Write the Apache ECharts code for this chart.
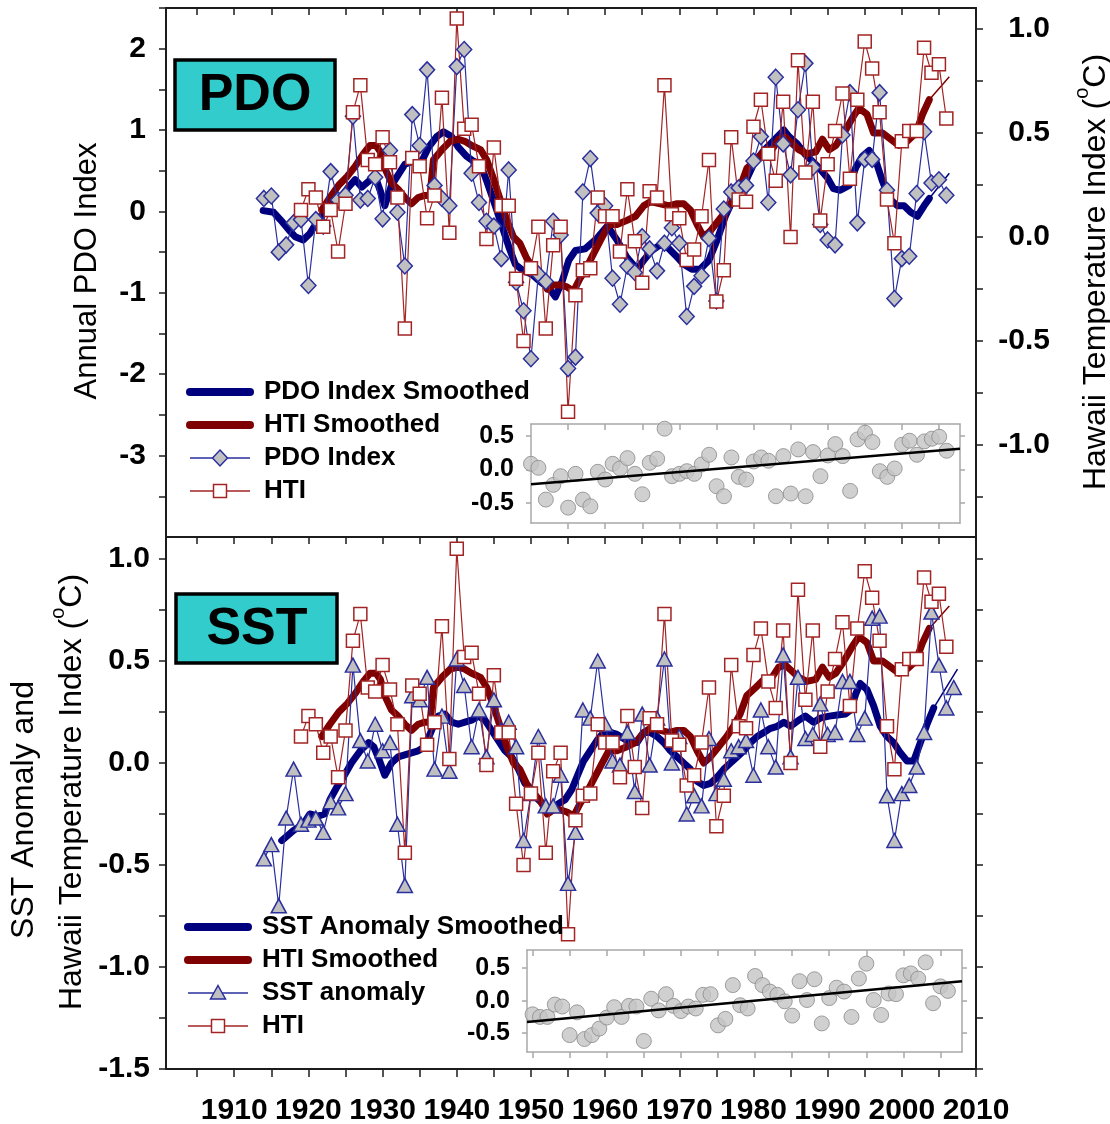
<!DOCTYPE html>
<html><head><meta charset="utf-8">
<script src="https://cdn.jsdelivr.net/npm/echarts@6/dist/echarts.min.js"></script>
<style>html,body{margin:0;padding:0;background:#fff;}#c{width:1110px;height:1124px;}</style>
</head><body><div id="c"></div>
<script>
// ---------- DATA ----------
const pdoYears = [1914,1915,1916,1917,1918,1919,1920,1921,1922,1923,1924,1925,1926,1927,1928,1929,1930,1931,1932,1933,1934,1935,1936,1937,1938,1939,1940,1941,1942,1943,1944,1945,1946,1947,1948,1949,1950,1951,1952,1953,1954,1955,1956,1957,1958,1959,1960,1961,1962,1963,1964,1965,1966,1967,1968,1969,1970,1971,1972,1973,1974,1975,1976,1977,1978,1979,1980,1981,1982,1983,1984,1985,1986,1987,1988,1989,1990,1991,1992,1993,1994,1995,1996,1997,1998,1999,2000,2001,2002,2003,2004,2005,2006];
const pdoValues = [0.16,0.19,-0.50,-0.41,-0.14,-0.10,-0.91,-0.10,-0.18,0.49,
  0.14,0.20,1.17,0.14,0.16,0.42,-0.09,0.75,-0.01,-0.67,
  1.19,0.81,1.74,0.32,0.16,0.07,1.78,1.99,0.47,0.11,
  -0.12,-0.18,-0.58,0.51,-0.87,-1.22,-1.81,-0.77,-0.86,-0.12,
  -0.29,-1.93,-1.79,0.24,0.65,-0.02,0.07,-0.82,-1.14,-0.67,
  -0.75,-0.31,-0.46,-0.73,-0.39,-0.20,-0.39,-1.29,-0.92,-0.79,
  -0.33,-1.10,0.03,0.24,0.29,0.32,0.62,0.92,0.11,1.65,
  0.83,0.45,1.25,1.82,0.54,-0.16,-0.35,-0.41,0.94,1.46,
  -0.14,0.64,0.64,1.46,0.26,-1.07,-0.58,-0.55,0.22,0.98,
  0.35,0.39,0.20];

const htiYears = [1919,1920,1921,1922,1923,1924,1925,1926,1927,1928,1929,1930,1931,1932,1933,1934,1935,1936,1937,1938,1939,1940,1941,1942,1943,1944,1945,1946,1947,1948,1949,1950,1951,1952,1953,1954,1955,1956,1957,1958,1959,1960,1961,1962,1963,1964,1965,1966,1967,1968,1969,1970,1971,1972,1973,1974,1975,1976,1977,1978,1979,1980,1981,1982,1983,1984,1985,1986,1987,1988,1989,1990,1991,1992,1993,1994,1995,1996,1997,1998,1999,2000,2001,2002,2003,2004,2005,2006];
const htiValues = [0.13,0.23,0.19,0.05,0.13,-0.07,0.16,0.60,0.73,0.37,
  0.35,0.48,0.36,0.19,-0.44,0.38,0.34,0.09,0.20,0.67,
  0.02,1.05,0.52,0.54,0.34,-0.01,0.43,0.15,0.15,-0.20,
  -0.50,-0.15,0.05,-0.44,-0.04,0.05,-0.84,-0.28,-0.16,-0.15,
  0.19,0.10,0.10,-0.07,0.23,-0.02,-0.22,0.22,0.19,0.73,
  0.11,0.09,-0.11,-0.06,0.10,0.37,-0.31,-0.16,0.48,0.18,
  0.17,0.53,0.66,0.40,0.27,0.65,0.00,0.85,0.31,0.65,
  0.08,0.35,0.51,0.69,0.28,0.66,0.94,0.81,0.60,0.18,
  -0.03,0.46,0.51,0.51,0.91,0.79,0.83,0.57];

const sstYears = [1914,1915,1916,1917,1918,1919,1920,1921,1922,1923,1924,1925,1926,1927,1928,1929,1930,1931,1932,1933,1934,1935,1936,1937,1938,1939,1940,1941,1942,1943,1944,1945,1946,1947,1948,1949,1950,1951,1952,1953,1954,1955,1956,1957,1958,1959,1960,1961,1962,1963,1964,1965,1966,1967,1968,1969,1970,1971,1972,1973,1974,1975,1976,1977,1978,1979,1980,1981,1982,1983,1984,1985,1986,1987,1988,1989,1990,1991,1992,1993,1994,1995,1996,1997,1998,1999,2000,2001,2002,2003,2004,2005,2006,2007];
const sstValues = [-0.47,-0.40,-0.70,-0.27,-0.03,-0.30,-0.28,-0.27,-0.34,-0.19,
  -0.22,-0.15,0.48,0.11,0.01,0.19,0.06,0.10,-0.30,-0.60,
  0.33,0.31,0.42,-0.03,0.23,-0.04,0.51,0.38,0.08,0.26,
  0.03,0.31,0.16,0.20,0.08,-0.38,-0.15,0.13,-0.21,-0.21,
  -0.06,-0.59,-0.34,0.26,0.22,0.50,0.19,0.01,-0.01,0.15,
  -0.14,0.24,-0.01,0.22,0.51,0.00,0.13,-0.25,-0.16,-0.21,
  0.12,-0.15,-0.08,0.06,0.08,0.11,-0.06,0.26,0.08,-0.02,
  0.53,0.03,0.42,0.12,0.14,0.29,0.14,0.15,0.40,0.40,
  0.14,0.22,0.71,0.72,-0.16,-0.38,-0.15,-0.11,-0.02,0.15,
  0.74,0.48,0.27,0.37];

// smoothed curves: [year, value]
const pdoSmoothed = [[1913.9,0.01],[1915.3,-0.01],[1916.2,-0.10],[1917.3,-0.22],[1918.2,-0.31],[1919.3,-0.35],[1920.2,-0.27],[1921.1,-0.14],[1922.0,-0.01],[1922.9,0.07],[1924.3,0.16],[1925.4,0.30],[1926.3,0.39],[1927.2,0.30],[1928.1,0.37],[1929.0,0.43],[1929.7,0.25],[1930.3,0.07],[1931.2,0.32],[1932.1,0.45],[1933.0,0.58],[1934.2,0.62],[1935.3,0.62],[1936.2,0.79],[1937.3,0.92],[1938.2,0.98],[1939.3,0.92],[1940.2,0.79],[1941.3,0.68],[1942.2,0.62],[1943.2,0.58],[1944.05,0.37],[1945.2,0.07],[1946.1,-0.18],[1947.0,-0.43],[1947.9,-0.65],[1949.0,-0.73],[1950.1,-0.77],[1951.2,-0.86],[1952.4,-0.94],[1953.3,-1.05],[1954.2,-0.86],[1955.1,-0.60],[1956.0,-0.48],[1957.3,-0.46],[1958.9,-0.33],[1960.3,-0.18],[1961.6,-0.35],[1962.9,-0.56],[1964.3,-0.71],[1965.2,-0.60],[1966.3,-0.48],[1967.4,-0.41],[1968.3,-0.43],[1969.5,-0.54],[1970.6,-0.65],[1971.7,-0.71],[1972.8,-0.71],[1974.0,-0.60],[1975.1,-0.35],[1976.2,-0.06],[1977.3,0.16],[1978.7,0.32],[1980.0,0.58],[1981.4,0.75],[1982.7,0.87],[1984.1,1.0],[1984.8,0.92],[1985.9,0.83],[1987.0,0.70],[1987.9,0.62],[1988.8,0.54],[1990.0,0.41],[1990.8,0.28],[1991.7,0.26],[1992.9,0.32],[1993.8,0.54],[1994.7,0.68],[1995.6,0.75],[1996.5,0.62],[1997.4,0.37],[1998.3,0.16],[1999.4,0.07],[2000.3,0.07],[2001.2,-0.01],[2002.1,-0.06],[2003.0,0.07],[2003.7,0.16]];
const pdoSmoothedTail = [[2003.7,0.16],[2006.4,0.47]];

const htiSmoothed = [[1921.8,0.13],[1922.9,0.19],[1924.1,0.25],[1925.2,0.29],[1926.3,0.34],[1927.4,0.40],[1928.3,0.44],[1929.1,0.44],[1929.7,0.41],[1930.3,0.33],[1931.2,0.26],[1932.1,0.23],[1933.0,0.19],[1933.9,0.16],[1934.8,0.19],[1935.7,0.20],[1936.4,0.20],[1936.85,0.37],[1938.0,0.42],[1939.1,0.46],[1940.2,0.47],[1941.1,0.46],[1942.0,0.44],[1943.2,0.42],[1944.05,0.37],[1944.95,0.28],[1945.85,0.18],[1946.75,0.08],[1947.65,0.0],[1948.5,-0.03],[1949.4,-0.10],[1950.3,-0.15],[1951.2,-0.18],[1952.2,-0.25],[1953.05,-0.23],[1953.95,-0.23],[1954.85,-0.24],[1955.75,-0.26],[1956.6,-0.20],[1957.3,-0.16],[1958.45,-0.08],[1959.6,0.0],[1960.5,0.06],[1961.6,0.06],[1962.95,0.08],[1964.1,0.10],[1965.2,0.15],[1966.1,0.17],[1967.45,0.16],[1968.6,0.15],[1969.7,0.16],[1970.6,0.16],[1971.5,0.13],[1972.4,0.06],[1973.3,0.0],[1974.2,0.03],[1975.3,0.08],[1976.4,0.13],[1977.3,0.18],[1978.2,0.24],[1979.1,0.33],[1980.3,0.37],[1981.4,0.41],[1982.5,0.42],[1983.4,0.47],[1984.3,0.48],[1985.2,0.45],[1986.1,0.42],[1987.2,0.40],[1988.4,0.41],[1989.3,0.47],[1990.2,0.42],[1991.1,0.44],[1992.2,0.50],[1993.3,0.57],[1994.2,0.62],[1995.3,0.59],[1996.2,0.50],[1997.4,0.50],[1998.5,0.47],[1999.6,0.44],[2000.7,0.46],[2001.9,0.50],[2002.8,0.59],[2003.7,0.66]];
const htiSmoothedTail = [[2003.7,0.66],[2006.4,0.77]];

const sstSmoothed = [[1916.4,-0.38],[1918.0,-0.33],[1919.3,-0.30],[1920.2,-0.25],[1921.3,-0.26],[1922.2,-0.25],[1922.9,-0.18],[1923.8,-0.12],[1924.7,-0.07],[1925.8,0.0],[1927.0,0.06],[1928.1,0.10],[1928.8,0.08],[1929.5,0.02],[1930.3,-0.06],[1931.2,0.0],[1932.1,0.03],[1933.0,0.04],[1933.9,0.05],[1934.8,0.06],[1935.7,0.08],[1936.6,0.16],[1937.5,0.23],[1938.4,0.24],[1939.3,0.20],[1940.2,0.19],[1941.1,0.20],[1942.0,0.21],[1942.9,0.23],[1943.8,0.21],[1944.7,0.16],[1945.6,0.11],[1946.5,0.06],[1947.4,0.03],[1948.3,-0.03],[1949.2,-0.10],[1950.1,-0.13],[1951.0,-0.18],[1951.9,-0.21],[1952.8,-0.23],[1953.7,-0.20],[1954.6,-0.18],[1955.5,-0.13],[1956.4,-0.05],[1957.1,0.01],[1958.0,0.06],[1958.9,0.11],[1959.8,0.15],[1960.7,0.15],[1961.6,0.14],[1962.5,0.12],[1963.4,0.10],[1964.3,0.10],[1965.2,0.15],[1966.1,0.15],[1967.0,0.13],[1967.9,0.10],[1968.8,0.06],[1969.7,0.03],[1970.6,0.0],[1971.5,-0.03],[1972.4,-0.09],[1973.3,-0.11],[1974.2,-0.10],[1975.1,-0.07],[1976.0,-0.03],[1976.9,0.0],[1977.8,0.03],[1978.7,0.06],[1979.6,0.10],[1980.5,0.13],[1981.4,0.15],[1982.3,0.17],[1983.2,0.18],[1984.1,0.20],[1985.0,0.18],[1986.1,0.21],[1987.0,0.23],[1988.1,0.20],[1989.0,0.22],[1990.2,0.23],[1991.3,0.235],[1992.4,0.24],[1993.1,0.26],[1993.8,0.34],[1994.4,0.39],[1995.3,0.36],[1996.2,0.28],[1997.1,0.18],[1998.0,0.13],[1998.9,0.10],[1999.8,0.05],[2000.7,0.01],[2001.6,0.01],[2002.5,0.10],[2003.4,0.19],[2004.3,0.27]];
const sstSmoothedTail = [[2004.3,0.27],[2007.5,0.46]];

// insets
const insetYears = [1950,1951,1952,1953,1954,1955,1956,1957,1958,1959,1960,1961,1962,1963,1964,1965,1966,1967,1968,1969,1970,1971,1972,1973,1974,1975,1976,1977,1978,1979,1980,1981,1982,1983,1984,1985,1986,1987,1988,1989,1990,1991,1992,1993,1994,1995,1996,1997,1998,1999,2000,2001,2002,2003,2004,2005,2006];
const insetTopValues = [0.085,0.025,-0.45,-0.23,-0.10,-0.57,-0.065,-0.45,-0.55,-0.035,
  -0.15,0.085,0.015,0.17,-0.065,-0.37,0.10,0.16,0.61,-0.10,
  -0.065,-0.025,-0.065,0.075,0.22,-0.25,-0.40,0.18,-0.11,-0.15,
  0.12,0.18,0.13,-0.40,0.20,-0.36,0.30,-0.40,0.26,-0.10,
  0.21,0.38,0.20,-0.32,0.45,0.55,0.41,-0.025,-0.11,0.015,
  0.37,0.43,0.22,0.42,0.46,0.49,0.28];
const insetBottomValues = [-0.21,-0.25,-0.25,-0.06,-0.09,-0.53,-0.18,-0.59,-0.53,-0.43,
  -0.26,-0.10,-0.25,-0.08,-0.09,-0.62,0.03,-0.15,0.10,-0.08,
  -0.16,-0.09,-0.12,0.09,0.10,-0.38,-0.28,0.24,-0.07,-0.12,
  0.38,0.24,0.14,0.09,-0.01,-0.23,0.30,0.01,0.33,-0.35,
  0.04,0.20,0.14,-0.25,0.34,0.57,0.01,-0.22,0.11,0.10,
  0.39,0.42,0.34,0.59,-0.04,0.22,0.15];
const trendTopYears = [1950, 2007.8], trendTopValues = [-0.22, 0.31];
const trendBottomYears = [1949.25, 2007.9], trendBottomValues = [-0.33, 0.30];

// tick values
const xTickYears = [1905,1910,1915,1920,1925,1930,1935,1940,1945,1950,1955,1960,1965,1970,1975,1980,1985,1990,1995,2000,2005,2010];
const xLabelYears = [1910,1920,1930,1940,1950,1960,1970,1980,1990,2000,2010];
const pdoTicks = [-3.5,-3,-2.5,-2,-1.5,-1,-0.5,0,0.5,1,1.5,2,2.5];
const pdoLabels = [-3,-2,-1,0,1,2];
const htiTopTicks = [-1.25,-1,-0.75,-0.5,-0.25,0,0.25,0.5,0.75,1];
const htiTopLabels = [-1,-0.5,0,0.5,1];
const sstTicks = [-1.5,-1.25,-1,-0.75,-0.5,-0.25,0,0.25,0.5,0.75,1];
const sstLabels = [-1.5,-1,-0.5,0,0.5,1];
const insetTicks = [-0.5,0,0.5];
const insetTopXTicks = [1955,1960,1965,1970,1975,1980,1985,1990,1995,2000,2005];
const insetBotXTicks = [1950,1955,1960,1965,1970,1975,1980,1985,1990,1995,2000,2005];

// ---------- CHART ----------
const zip = (xs, ys) => xs.map((x, i) => [x, ys[i]]);
const FONT = '"Liberation Sans", Arial, Helvetica, sans-serif';
const NAVY = '#00007f', MAROON = '#7f0000', BLUE = '#2a2f9e', RED = '#a32424', GFILL = '#c0c0c0';
const FRAME = '#1c1c1c', IFRAME = '#a8a8a8';
const lbl = (size) => ({ fontFamily: FONT, fontSize: size, fontWeight: 'bold', color: '#000', hideOverlap: false });
const fYear = v => String(Math.round(v));

function xAx(grid, pos, min, max, ticks, inside, len, color, labels) {
  return {
    type: 'value', gridIndex: grid, position: pos, min: min, max: max,
    axisLine: { show: true, onZero: false, lineStyle: { color: color, width: color === FRAME ? 2 : 1.5 } },
    axisTick: { show: true, inside: inside, length: len, customValues: ticks, lineStyle: { color: color, width: 1.5 } },
    axisLabel: labels ? Object.assign({ show: true, customValues: labels, margin: 27, formatter: fYear }, lbl(30)) : { show: false },
    splitLine: { show: false }
  };
}
function yAx(grid, pos, min, max, ticks, inside, len, color, labels, size, margin, fmt, align) {
  const o = {
    type: 'value', gridIndex: grid, position: pos, min: min, max: max,
    axisLine: { show: true, onZero: false, lineStyle: { color: color, width: color === FRAME ? 2 : 1.5 } },
    axisTick: { show: true, inside: inside, length: len, customValues: ticks, lineStyle: { color: color, width: 1.5 } },
    axisLabel: { show: false },
    splitLine: { show: false }
  };
  if (labels) {
    o.axisLabel = Object.assign({ show: true, customValues: labels, margin: margin, formatter: fmt }, lbl(size));
    if (align) o.axisLabel.align = align;
  }
  return o;
}
const f0 = v => String(Math.round(v));
const f1 = v => Number(v).toFixed(1);

const thin = (name, xi, yi, data, sym, size, fill, stroke) => ({
  type: 'line', name: name, xAxisIndex: xi, yAxisIndex: yi, data: data,
  symbol: sym, symbolSize: size, showSymbol: true, showAllSymbol: true,
  lineStyle: { color: stroke, width: 1.2 },
  itemStyle: { color: fill, borderColor: stroke, borderWidth: 1.5 },
  z: 3
});
const thick = (name, xi, yi, data, color) => ({
  type: 'line', name: name, xAxisIndex: xi, yAxisIndex: yi, data: data, symbol: 'none',
  lineStyle: { color: color, width: 7, cap: 'round', join: 'round' }, z: 2
});
const tail = (name, xi, yi, data, color) => ({
  type: 'line', name: name, xAxisIndex: xi, yAxisIndex: yi, data: data, symbol: 'none',
  lineStyle: { color: color, width: 1.5 }, z: 2
});

// legend drawing helpers (graphic)
function legendRows(x0, textX, rows) {
  const g = [];
  rows.forEach(r => {
    if (r.kind === 'thick') {
      g.push({ type: 'line', shape: { x1: x0, y1: r.y, x2: x0 + 60, y2: r.y }, style: { stroke: r.color, lineWidth: 8, lineCap: 'round' }, z: 100 });
    } else {
      g.push({ type: 'line', shape: { x1: x0, y1: r.y, x2: x0 + 60, y2: r.y }, style: { stroke: r.color, lineWidth: 1.5 }, z: 100 });
      const cx = x0 + 30, cy = r.y;
      if (r.kind === 'diamond') g.push({ type: 'polygon', shape: { points: [[cx, cy - 8], [cx + 7.5, cy], [cx, cy + 8], [cx - 7.5, cy]] }, style: { fill: GFILL, stroke: r.color, lineWidth: 1.5 }, z: 101 });
      if (r.kind === 'square') g.push({ type: 'rect', shape: { x: cx - 6.5, y: cy - 6.5, width: 13, height: 13 }, style: { fill: '#fff', stroke: r.color, lineWidth: 1.5 }, z: 101 });
      if (r.kind === 'triangle') g.push({ type: 'polygon', shape: { points: [[cx, cy - 7.5], [cx + 7.5, cy + 6], [cx - 7.5, cy + 6]] }, style: { fill: GFILL, stroke: r.color, lineWidth: 1.5 }, z: 101 });
    }
    g.push({ type: 'text', x: textX, y: r.y, style: { text: r.text, font: 'bold 26px ' + FONT, fill: '#000', align: 'left', verticalAlign: 'middle', textAlign: 'left', textVerticalAlign: 'middle' }, z: 101 });
  });
  return g;
}
function vText(x, y, text, size, rich) {
  const st = { text: text, font: size + 'px ' + FONT, fill: '#000', align: 'center', verticalAlign: 'middle', textAlign: 'center', textVerticalAlign: 'middle' };
  if (rich) st.rich = rich;
  return { type: 'text', x: x, y: y, rotation: Math.PI / 2, style: st, z: 100 };
}
const supRich = {
  n: { fontFamily: FONT, fontSize: 32, lineHeight: 40, verticalAlign: 'bottom' },
  s: { fontFamily: FONT, fontSize: 20, lineHeight: 40, verticalAlign: 'top', padding: [0, 0, 14, 0] }
};

const option = {
  animation: false,
  backgroundColor: '#fff',
  grid: [
    { left: 166, top: 8, width: 810, height: 529, containLabel: false, outerBoundsMode: 'none' },
    { left: 166, top: 537, width: 810, height: 532, containLabel: false, outerBoundsMode: 'none' },
    { left: 531, top: 424, width: 429, height: 99, containLabel: false, outerBoundsMode: 'none' },
    { left: 527, top: 950, width: 435, height: 102, containLabel: false, outerBoundsMode: 'none' }
  ],
  xAxis: [
    xAx(0, 'bottom', 1900.8, 2010, xTickYears, false, 7, FRAME, null),
    xAx(0, 'top', 1900.8, 2010, xTickYears, true, 7, FRAME, null),
    xAx(1, 'top', 1900.8, 2010, xTickYears, true, 7, FRAME, null),
    xAx(1, 'bottom', 1900.8, 2010, xTickYears, false, 8, FRAME, xLabelYears),
    xAx(2, 'bottom', 1950, 2007.8, insetTopXTicks, false, 6, IFRAME, null),
    xAx(2, 'top', 1950, 2007.8, insetTopXTicks, true, 6, IFRAME, null),
    xAx(3, 'bottom', 1949.25, 2007.9, insetBotXTicks, false, 6, IFRAME, null),
    xAx(3, 'top', 1949.25, 2007.9, insetBotXTicks, true, 6, IFRAME, null)
  ],
  yAxis: [
    yAx(0, 'left', -4, 2.5, pdoTicks, false, 7, FRAME, pdoLabels, 30, 20, f0),
    yAx(0, 'right', -1.442, 1.101, htiTopTicks, false, 7, FRAME, htiTopLabels, 30, 74, f1, 'right'),
    yAx(1, 'left', -1.5, 1.108, sstTicks, false, 7, FRAME, sstLabels, 30, 16, f1),
    yAx(1, 'right', -1.5, 1.108, sstTicks, false, 7, FRAME, null),
    yAx(2, 'left', -0.80, 0.68, insetTicks, false, 5, IFRAME, insetTicks, 25, 17, f1),
    yAx(2, 'right', -0.80, 0.68, insetTicks, false, 5, IFRAME, null),
    yAx(3, 'left', -0.79, 0.78, insetTicks, false, 5, IFRAME, insetTicks, 25, 17, f1),
    yAx(3, 'right', -0.79, 0.78, insetTicks, false, 5, IFRAME, null)
  ],
  series: [
    // top panel
    thick('PDO Index Smoothed', 0, 0, pdoSmoothed, NAVY),
    tail('PDO Index Smoothed (end)', 0, 0, pdoSmoothedTail, NAVY),
    thick('HTI Smoothed', 0, 1, htiSmoothed, MAROON),
    tail('HTI Smoothed (end)', 0, 1, htiSmoothedTail, MAROON),
    thin('PDO Index', 0, 0, zip(pdoYears, pdoValues), 'diamond', [15, 16], GFILL, BLUE),
    thin('HTI', 0, 1, zip(htiYears, htiValues), 'rect', 13, '#fff', RED),
    // bottom panel
    thick('SST Anomaly Smoothed', 3, 2, sstSmoothed, NAVY),
    tail('SST Anomaly Smoothed (end)', 3, 2, sstSmoothedTail, NAVY),
    thick('HTI Smoothed (SST panel)', 3, 2, htiSmoothed, MAROON),
    tail('HTI Smoothed (SST panel, end)', 3, 2, htiSmoothedTail, MAROON),
    thin('SST anomaly', 3, 2, zip(sstYears, sstValues), 'triangle', [15, 14], GFILL, BLUE),
    thin('HTI (SST panel)', 3, 2, zip(htiYears, htiValues), 'rect', 13, '#fff', RED),
    // insets
    { type: 'scatter', name: 'Inset PDO residual', xAxisIndex: 4, yAxisIndex: 4, data: zip(insetYears, insetTopValues), symbolSize: 15,
      itemStyle: { color: '#c4c4c4', borderColor: '#8a8a8a', borderWidth: 1 }, z: 3 },
    { type: 'line', name: 'Inset PDO trend', xAxisIndex: 4, yAxisIndex: 4, data: zip(trendTopYears, trendTopValues), symbol: 'none',
      lineStyle: { color: '#000', width: 2.5 }, z: 4 },
    { type: 'scatter', name: 'Inset SST residual', xAxisIndex: 6, yAxisIndex: 6, data: zip(insetYears, insetBottomValues), symbolSize: 15,
      itemStyle: { color: '#c4c4c4', borderColor: '#8a8a8a', borderWidth: 1 }, z: 3 },
    { type: 'line', name: 'Inset SST trend', xAxisIndex: 6, yAxisIndex: 6, data: zip(trendBottomYears, trendBottomValues), symbol: 'none',
      lineStyle: { color: '#000', width: 2.5 }, z: 4 }
  ],
  graphic: [].concat(
    legendRows(190, 264, [
      { y: 392, kind: 'thick', color: NAVY, text: 'PDO Index Smoothed' },
      { y: 425, kind: 'thick', color: MAROON, text: 'HTI Smoothed' },
      { y: 458, kind: 'diamond', color: BLUE, text: 'PDO Index' },
      { y: 491, kind: 'square', color: RED, text: 'HTI' }
    ]),
    legendRows(188, 262, [
      { y: 927, kind: 'thick', color: NAVY, text: 'SST Anomaly Smoothed' },
      { y: 960, kind: 'thick', color: MAROON, text: 'HTI Smoothed' },
      { y: 993, kind: 'triangle', color: BLUE, text: 'SST anomaly' },
      { y: 1026, kind: 'square', color: RED, text: 'HTI' }
    ]),
    [
      { type: 'rect', shape: { x: 175, y: 60, width: 160, height: 70 }, style: { fill: '#33cccc', stroke: '#000', lineWidth: 3.5 }, z: 100 },
      { type: 'text', x: 255, y: 96, style: { text: 'PDO', font: 'bold 52px ' + FONT, fill: '#000', align: 'center', verticalAlign: 'middle', textAlign: 'center', textVerticalAlign: 'middle' }, z: 101 },
      { type: 'rect', shape: { x: 176, y: 594, width: 161, height: 69 }, style: { fill: '#33cccc', stroke: '#000', lineWidth: 3.5 }, z: 100 },
      { type: 'text', x: 257, y: 630, style: { text: 'SST', font: 'bold 52px ' + FONT, fill: '#000', align: 'center', verticalAlign: 'middle', textAlign: 'center', textVerticalAlign: 'middle' }, z: 101 },
      vText(87, 271, 'Annual PDO Index', 31),
      vText(1092, 272, '{n|Hawaii Temperature Index (}{s|o}{n|C)}', 32, supRich),
      vText(24, 810, 'SST Anomaly and', 32),
      vText(68, 792, '{n|Hawaii Temperature Index (}{s|o}{n|C)}', 32, supRich)
    ]
  )
};

const chart = echarts.init(document.getElementById('c'), null, { renderer: 'canvas', width: 1110, height: 1124 });
chart.setOption(option);
</script>
</body></html>
